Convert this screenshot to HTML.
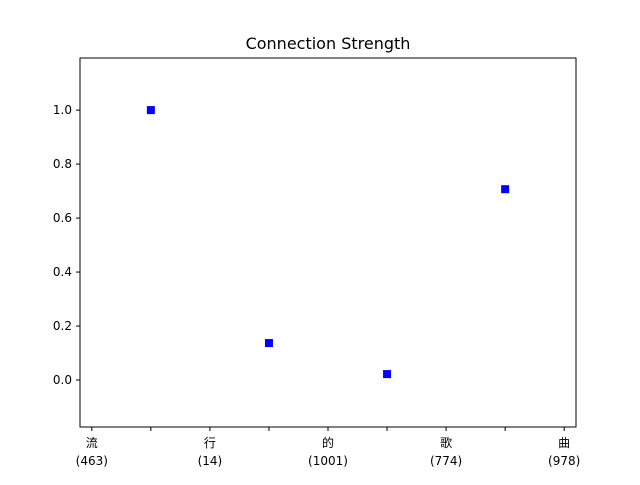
<!DOCTYPE html>
<html><head><meta charset="utf-8"><style>
html,body{margin:0;padding:0;background:#fff;}
text{font-family:"DejaVu Sans","Liberation Sans","Noto Sans CJK SC",sans-serif;}
</style></head><body>
<svg id="chart" width="640" height="480">
<rect width="640" height="480" fill="#fff"/>
<text x="328" y="49" text-anchor="middle" font-size="16">Connection Strength</text>
<g id="plot"></g>
</svg>
<script>
const categories = ["流","行","的","歌","曲"];
const counts = ["(463)","(14)","(1001)","(774)","(978)"];
const pointX = [0.5,1.5,2.5,3.5];
const pointValues = [1.0,0.137,0.022,0.707];
const yTicks = [0.0,0.2,0.4,0.6,0.8,1.0];
const minorX = [0.5,1.5,2.5,3.5];

const L=80,R=576,T=58,B=427;
const xMin=-0.1,xMax=4.1,yMin=-0.174,yMax=1.193;
const sx=v=>L+(v-xMin)/(xMax-xMin)*(R-L);
const sy=v=>B-(v-yMin)/(yMax-yMin)*(B-T);
const NS="http://www.w3.org/2000/svg";
const g=document.getElementById('plot');
function mk(tag,attrs){const e=document.createElementNS(NS,tag);for(const k in attrs)e.setAttribute(k,attrs[k]);g.appendChild(e);return e;}

yTicks.forEach(v=>{
  const t=mk('line',{x1:L-4,x2:L,y1:sy(v),y2:sy(v),stroke:'#000','stroke-width':1});
  
  
  const l=mk('text',{x:L-8,y:sy(v)+4,'text-anchor':'end','font-size':12});
  l.textContent=v.toFixed(1);
  
  
});
categories.forEach((c,i)=>{
  const t=mk('line',{x1:sx(i),x2:sx(i),y1:B,y2:B+4,stroke:'#000','stroke-width':1});
  
  
  const l=mk('text',{x:sx(i),y:B+20,'text-anchor':'middle','font-size':12});
  l.textContent=c;
  
  
  const l2=mk('text',{x:sx(i),y:B+38,'text-anchor':'middle','font-size':12});
  l2.textContent=counts[i];
  
  
});
minorX.forEach(v=>{
  const t=mk('line',{x1:sx(v),x2:sx(v),y1:B,y2:B+4,stroke:'#000','stroke-width':1});
  
  
});
pointX.forEach((x,i)=>{
  const p=mk('rect',{x:sx(x)-4,y:sy(pointValues[i])-4,width:8,height:8,fill:'#0000ff'});
  
  
});
const f=mk('rect',{x:L,y:T,width:R-L,height:B-T,fill:'none',stroke:'#000','stroke-width':1});


</script>
</body></html>
